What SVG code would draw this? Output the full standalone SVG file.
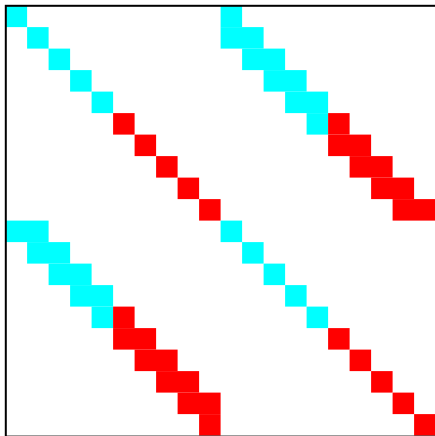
<svg xmlns="http://www.w3.org/2000/svg" width="435" height="436" viewBox="0 0 435 436">
<style>
.c{fill:#00ffff}
.r{fill:#ff0000}
</style>
<rect x="0" y="0" width="435" height="436" fill="#ffffff"/>
<g id="matrix" transform="translate(5.6 5.6) scale(21.5)">
<g id="cyan">
<rect class="c" x="0" y="0" width="1" height="1"/>
<rect class="c" x="1" y="1" width="1" height="1"/>
<rect class="c" x="2" y="2" width="1" height="1"/>
<rect class="c" x="3" y="3" width="1" height="1"/>
<rect class="c" x="4" y="4" width="1" height="1"/>
<rect class="c" x="10" y="10" width="1" height="1"/>
<rect class="c" x="11" y="11" width="1" height="1"/>
<rect class="c" x="12" y="12" width="1" height="1"/>
<rect class="c" x="13" y="13" width="1" height="1"/>
<rect class="c" x="14" y="14" width="1" height="1"/>
<rect class="c" x="10" y="0" width="1" height="1"/>
<rect class="c" x="10" y="1" width="2" height="1"/>
<rect class="c" x="11" y="2" width="2" height="1"/>
<rect class="c" x="12" y="3" width="2" height="1"/>
<rect class="c" x="13" y="4" width="2" height="1"/>
<rect class="c" x="14" y="5" width="1" height="1"/>
<rect class="c" x="0" y="10" width="2" height="1"/>
<rect class="c" x="1" y="11" width="2" height="1"/>
<rect class="c" x="2" y="12" width="2" height="1"/>
<rect class="c" x="3" y="13" width="2" height="1"/>
<rect class="c" x="4" y="14" width="1" height="1"/>
</g>
<g id="red">
<rect class="r" x="5" y="5" width="1" height="1"/>
<rect class="r" x="6" y="6" width="1" height="1"/>
<rect class="r" x="7" y="7" width="1" height="1"/>
<rect class="r" x="8" y="8" width="1" height="1"/>
<rect class="r" x="9" y="9" width="1" height="1"/>
<rect class="r" x="15" y="15" width="1" height="1"/>
<rect class="r" x="16" y="16" width="1" height="1"/>
<rect class="r" x="17" y="17" width="1" height="1"/>
<rect class="r" x="18" y="18" width="1" height="1"/>
<rect class="r" x="19" y="19" width="1" height="1"/>
<rect class="r" x="15" y="5" width="1" height="1"/>
<rect class="r" x="15" y="6" width="2" height="1"/>
<rect class="r" x="16" y="7" width="2" height="1"/>
<rect class="r" x="17" y="8" width="2" height="1"/>
<rect class="r" x="18" y="9" width="2" height="1"/>
<rect class="r" x="5" y="14" width="1" height="1"/>
<rect class="r" x="5" y="15" width="2" height="1"/>
<rect class="r" x="6" y="16" width="2" height="1"/>
<rect class="r" x="7" y="17" width="2" height="1"/>
<rect class="r" x="8" y="18" width="2" height="1"/>
<rect class="r" x="9" y="19" width="1" height="1"/>
</g>
</g>
<rect id="frame" x="5.8" y="5.8" width="432.5" height="430.8" fill="none" stroke="#000000" stroke-width="2"/>
</svg>
